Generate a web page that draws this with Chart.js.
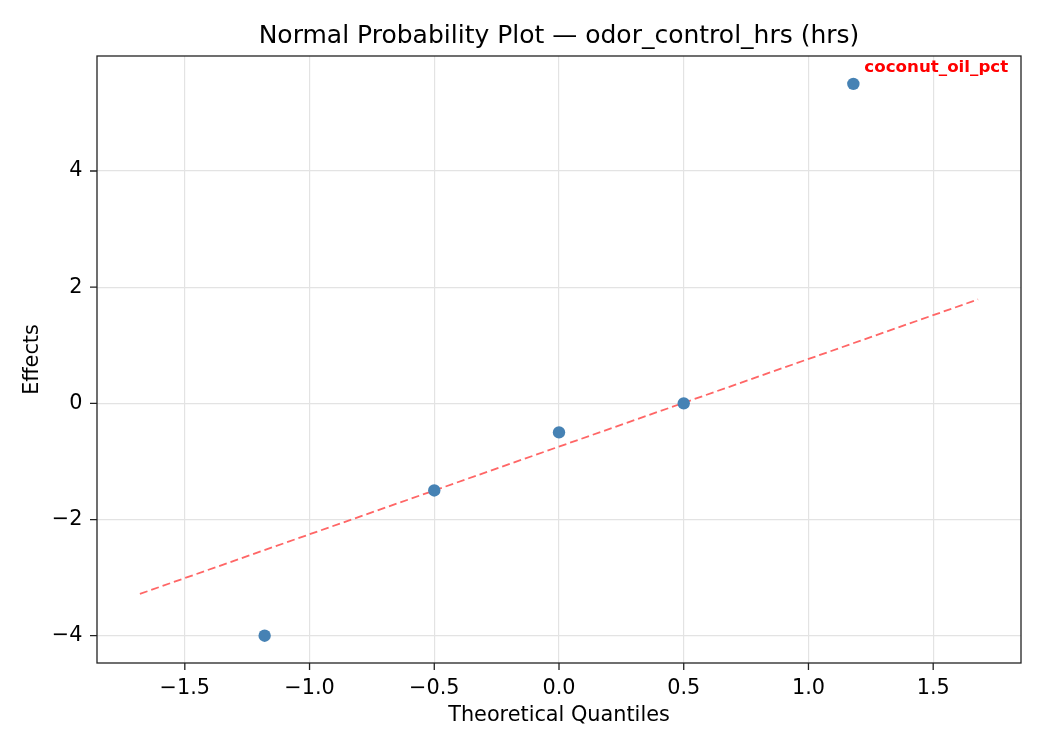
<!DOCTYPE html>
<html>
<head>
<meta charset="utf-8">
<script src="https://cdn.jsdelivr.net/npm/chart.js@4"></script>
<style>
  html, body { margin: 0; padding: 0; background: #fff; }
  #wrap { width: 1050px; height: 750px; }
</style>
</head>
<body>
<div id="wrap"><canvas id="myChart" width="1050" height="750"></canvas></div>
<script>
// data
const quantiles = [-1.18, -0.50, 0.0, 0.50, 1.18]
const effects = [-4.0, -1.5, -0.5, 0.0, 5.5]
const labelIndex = 4
const labelText = "coconut_oil_pct"
const refLineX = [-1.68, 1.68]
const refLineY = [-3.28, 1.79]
const xTicks = [-1.5, -1.0, -0.5, 0.0, 0.5, 1.0, 1.5]
const yTicks = [-4, -2, 0, 2, 4]
const titleText = "Normal Probability Plot \u2014 odor_control_hrs (hrs)"

const font = "'DejaVu Sans', sans-serif"
const minus = (s) => s.replace("-", "\u2212")

// title over the plot, box, tick marks, and label of the biggest effect
const boxAndLabel = {
  id: "boxAndLabel",
  afterDraw(chart) {
    const { ctx, chartArea, scales } = chart
    ctx.save()
    // tick marks
    ctx.strokeStyle = "#222"
    ctx.lineWidth = 1.3
    ctx.beginPath()
    scales.x.ticks.forEach((t) => {
      const x = scales.x.getPixelForValue(t.value)
      ctx.moveTo(x, chartArea.bottom)
      ctx.lineTo(x, chartArea.bottom + 7)
    })
    scales.y.ticks.forEach((t) => {
      const y = scales.y.getPixelForValue(t.value)
      ctx.moveTo(chartArea.left, y)
      ctx.lineTo(chartArea.left - 7, y)
    })
    ctx.stroke()
    // frame
    ctx.strokeRect(chartArea.left, chartArea.top, chartArea.right - chartArea.left, chartArea.bottom - chartArea.top)
    // title
    ctx.fillStyle = "#000"
    ctx.font = "25px " + font
    ctx.textAlign = "center"
    ctx.textBaseline = "middle"
    ctx.fillText(titleText, (chartArea.left + chartArea.right) / 2, 36)
    // annotation
    const px = scales.x.getPixelForValue(quantiles[labelIndex])
    const py = scales.y.getPixelForValue(effects[labelIndex])
    ctx.fillStyle = "#ff0000"
    ctx.font = "bold 16.7px " + font
    ctx.textBaseline = "middle"
    ctx.textAlign = "left"
    ctx.fillText(labelText, px + 11, py - 16)
    ctx.restore()
  }
}

function renderGrafica() {
  const config = {
    type: "scatter",
    data: {
      datasets: [
        {
          label: "Effects",
          data: quantiles.map((q, i) => ({ x: q, y: effects[i] })),
          backgroundColor: "#4682b4",
          borderWidth: 0,
          pointRadius: 6.2,
          order: 1
        },
        {
          label: "Reference",
          type: "line",
          data: refLineX.map((q, i) => ({ x: q, y: refLineY[i] })),
          borderColor: "#ff6666",
          borderWidth: 1.8,
          borderDash: [8, 4],
          pointRadius: 0,
          fill: false,
          order: 2
        }
      ]
    },
    options: {
      responsive: false,
      animation: false,
      layout: { padding: { left: 0, right: 29, top: 56, bottom: 0 } },
      plugins: {
        legend: { display: false },
        tooltip: { enabled: false },
        title: { display: false }
      },
      scales: {
        x: {
          type: "linear",
          min: -1.852,
          max: 1.852,
          afterFit(scale) { scale.height = 87 },
          afterBuildTicks(scale) { scale.ticks = xTicks.map((v) => ({ value: v })) },
          grid: { color: "#e3e3e3", lineWidth: 1.2, drawTicks: false },
          border: { display: false },
          ticks: {
            color: "#000",
            padding: 13,
            font: { family: font, size: 20.8 },
            callback: (v) => minus(Number(v).toFixed(1))
          },
          title: {
            display: true,
            text: "Theoretical Quantiles",
            color: "#000",
            font: { family: font, size: 20.8 },
            padding: { top: 0, bottom: 22 }
          }
        },
        y: {
          type: "linear",
          min: -4.47,
          max: 5.98,
          afterFit(scale) { scale.width = 97 },
          afterBuildTicks(scale) { scale.ticks = yTicks.map((v) => ({ value: v })) },
          grid: { color: "#e3e3e3", lineWidth: 1.2, drawTicks: false },
          border: { display: false },
          ticks: {
            color: "#000",
            padding: 14.5,
            font: { family: font, size: 20.8 },
            callback: (v) => minus(String(v))
          },
          title: {
            display: true,
            text: "Effects",
            color: "#000",
            font: { family: font, size: 20.8 },
            padding: { top: 20.5, bottom: 0 }
          }
        }
      }
    },
    plugins: [boxAndLabel]
  }
  const myChart = document.getElementById("myChart")
  myChart.style.backgroundColor = "white"
  new Chart(myChart, config)
}

renderGrafica()
</script>
</body>
</html>
